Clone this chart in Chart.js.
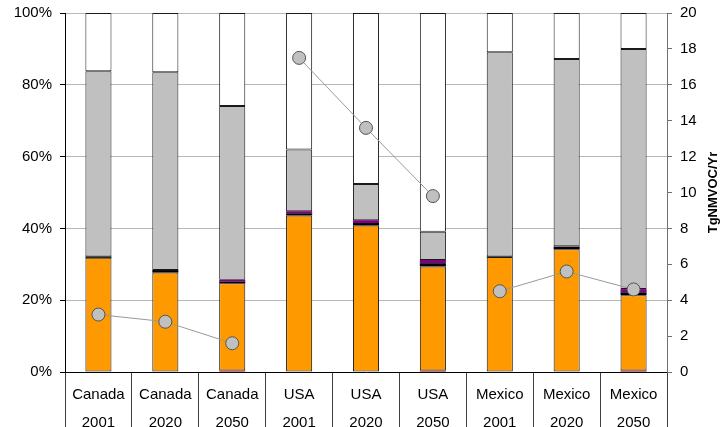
<!DOCTYPE html>
<html>
<head>
<meta charset="utf-8">
<script src="https://cdn.jsdelivr.net/npm/chart.js@4/dist/chart.umd.min.js"></script>
<style>
  html, body { margin: 0; padding: 0; background: #fff; }
  #wrap { width: 723px; height: 427px; position: relative; }
</style>
</head>
<body>
<div id="wrap"><canvas id="c" width="723" height="427"></canvas></div>
<script>
// Categories: country / year
const countries = ['Canada', 'Canada', 'Canada', 'USA', 'USA', 'USA', 'Mexico', 'Mexico', 'Mexico'];
const years = ['2001', '2020', '2050', '2001', '2020', '2050', '2001', '2020', '2050'];

// Share of emissions by source (percent, stacked bottom to top)
const darkRedShare = [0, 0, 0.4, 0, 0, 0.4, 0, 0, 0.4];
const orangeShare  = [31.8, 27.7, 24.3, 43.6, 40.8, 29.0, 32.0, 34.2, 21.0];
const blackShare   = [0.4, 0.7, 0.5, 0.6, 0.7, 0.9, 0.2, 0.7, 0.8];
const purpleShare  = [0, 0, 0.5, 0.6, 0.8, 0.9, 0, 0.1, 0.9];
const greyShare    = [51.6, 55.1, 48.4, 17.2, 10.1, 7.9, 56.9, 52.2, 66.9];
const whiteShare   = [16.2, 16.5, 25.9, 38.0, 47.6, 60.9, 10.9, 12.8, 10.0];

// Total emissions, TgNMVOC/Yr (right axis)
const totalEmissions = [3.2, 2.8, 1.6, 17.5, 13.6, 9.8, 4.5, 5.6, 4.6];

// Axis ticks
const pctTicks = [0, 20, 40, 60, 80, 100];
const tgTicks = [0, 2, 4, 6, 8, 10, 12, 14, 16, 18, 20];

const labels = countries.map((c, i) => [c, years[i]]);

function barSet(label, data, color, outlined) {
  return {
    type: 'bar', label, data, yAxisID: 'y',
    backgroundColor: color, borderColor: '#1a1a1a', borderWidth: outlined ? 1 : 0,
    borderSkipped: false, order: 2,
    categoryPercentage: 1.0, barPercentage: 0.39
  };
}

// Right-hand axis title, read bottom to top
const rightTitle = {
  id: 'rightTitle',
  afterDraw(chart) {
    const ctx = chart.ctx;
    const s = chart.scales.y2;
    ctx.save();
    ctx.translate(713, (s.top + s.bottom) / 2);
    ctx.rotate(-Math.PI / 2);
    ctx.font = 'bold 13px "Liberation Sans", Arial, sans-serif';
    ctx.fillStyle = '#000';
    ctx.textAlign = 'center';
    ctx.textBaseline = 'middle';
    ctx.fillText('TgNMVOC/Yr', 0, 0);
    ctx.restore();
  }
};

Chart.defaults.font.family = '"Liberation Sans", Arial, sans-serif';
Chart.defaults.color = '#000';

function fixVertical(width) {
  return s => { s.width = width; s.paddingTop = 0; s.paddingBottom = 0; };
}

new Chart(document.getElementById('c'), {
  data: {
    labels,
    datasets: [
      barSet('Dark red', darkRedShare, '#800000', false),
      barSet('Orange', orangeShare, '#FF9900', true),
      barSet('Black', blackShare, '#000000', false),
      barSet('Purple', purpleShare, '#800080', false),
      barSet('Grey', greyShare, '#C0C0C0', true),
      barSet('White', whiteShare, '#FFFFFF', true),
      {
        type: 'line', label: 'Total', data: totalEmissions, yAxisID: 'y2',
        order: 0, borderColor: '#9a9a9a', borderWidth: 1,
        pointRadius: 6.5, pointHoverRadius: 6.5,
        pointBackgroundColor: '#C0C0C0', pointBorderColor: '#555',
        pointBorderWidth: 1, tension: 0,
        segment: {
          // lines join the years of one country only
          borderColor: c => (c.p0DataIndex % 3 === 2) ? 'rgba(0,0,0,0)' : '#9a9a9a'
        }
      }
    ]
  },
  options: {
    responsive: false,
    animation: false,
    layout: { padding: { top: 13, left: 0, right: 0, bottom: 0 } },
    plugins: { legend: { display: false }, tooltip: { enabled: false } },
    scales: {
      x: {
        stacked: true,
        offset: true,
        afterFit: s => { s.height = 55; s.paddingLeft = 0; s.paddingRight = 0; },
        grid: {
          offset: true, drawOnChartArea: false, drawTicks: true,
          tickLength: 55, tickColor: '#404040', tickWidth: 1
        },
        border: { color: '#000', width: 1 },
        ticks: {
          padding: -46, maxRotation: 0, autoSkip: false,
          font: { size: 15, lineHeight: '28px' }
        }
      },
      y: {
        stacked: true, position: 'left', min: 0, max: 100,
        afterFit: fixVertical(65),
        afterBuildTicks: s => { s.ticks = pctTicks.map(v => ({ value: v })); },
        grid: { color: '#b8b8b8', tickColor: '#000', tickLength: 5, drawTicks: true },
        border: { color: '#000', width: 1 },
        ticks: { padding: 8, font: { size: 15 }, callback: v => v + '%' }
      },
      y2: {
        stacked: false, position: 'right', min: 0, max: 20,
        afterFit: fixVertical(56),
        afterBuildTicks: s => { s.ticks = tgTicks.map(v => ({ value: v })); },
        grid: { drawOnChartArea: false, tickColor: '#707070', tickLength: 5, drawTicks: true },
        border: { color: '#707070', width: 1 },
        ticks: { padding: 8, font: { size: 15 } }
      }
    }
  },
  plugins: [rightTitle]
});
</script>
</body>
</html>
